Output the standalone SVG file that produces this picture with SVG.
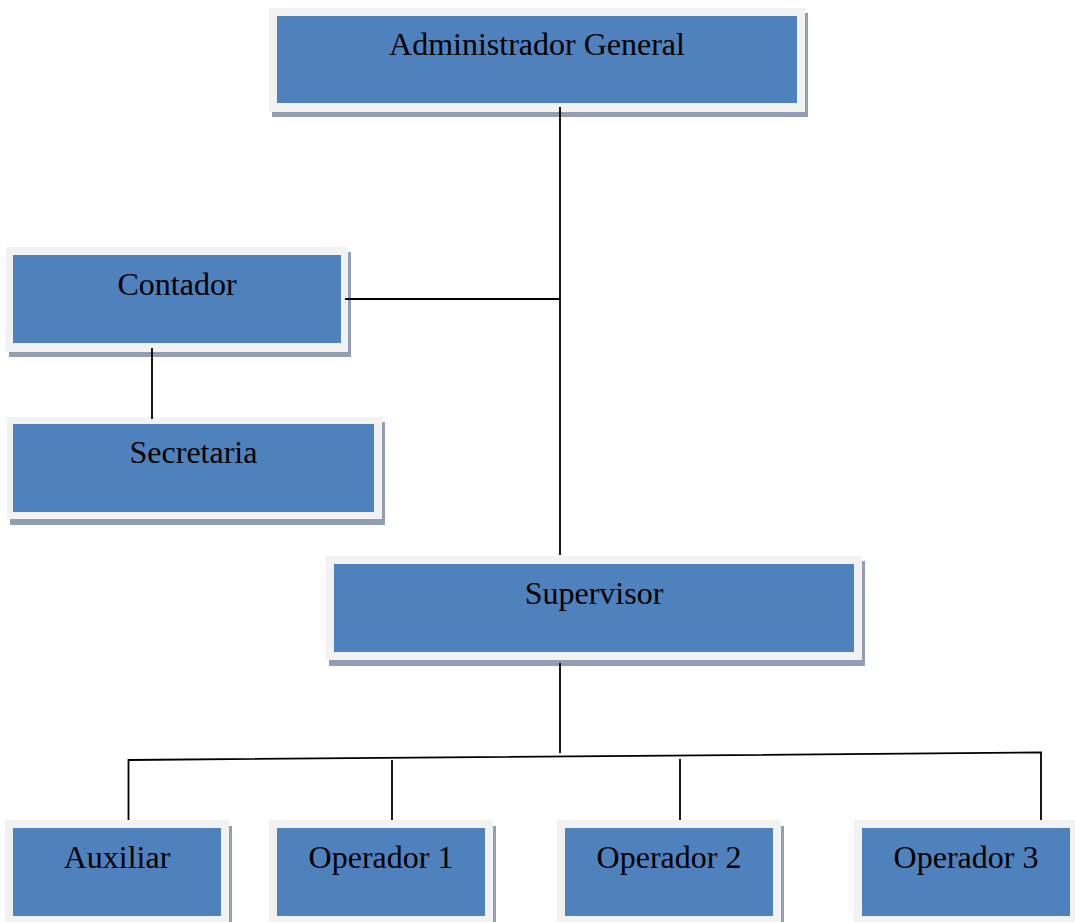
<svg xmlns="http://www.w3.org/2000/svg" width="1075" height="922" viewBox="0 0 1075 922">
<style>
.sh{fill:#929eb2}
.out{fill:#f2f2f2}
.box{fill:#4f81bd}
.t{font-family:"Liberation Serif","Times New Roman",serif;font-size:32px;fill:#000;text-anchor:middle}
.c{stroke:#000;stroke-width:1.8;fill:none}
</style>
<rect width="1075" height="922" fill="#fff"/>
<g id="admin">
<rect class="sh" x="272" y="13" width="536" height="104"/>
<rect class="out" x="269" y="8" width="536" height="104"/>
<rect class="box" x="277" y="16" width="520" height="87"/>
<text class="t" x="537" y="55">Administrador General</text>
</g>
<g id="contador">
<rect class="sh" x="9" y="252" width="342" height="105"/>
<rect class="out" x="6" y="247" width="342" height="105"/>
<rect class="box" x="13" y="255" width="328" height="88"/>
<text class="t" x="177" y="295">Contador</text>
</g>
<g id="secretaria">
<rect class="sh" x="10" y="422" width="375" height="103"/>
<rect class="out" x="7" y="417" width="375" height="102"/>
<rect class="box" x="13" y="424" width="361" height="88"/>
<text class="t" x="193.5" y="463">Secretaria</text>
</g>
<g id="supervisor">
<rect class="sh" x="329" y="561" width="536" height="105"/>
<rect class="out" x="326" y="556" width="536" height="104"/>
<rect class="box" x="334" y="564" width="520" height="88"/>
<text class="t" x="594" y="604">Supervisor</text>
</g>
<g id="auxiliar">
<rect class="sh" x="8" y="826" width="224" height="110"/>
<rect class="out" x="5" y="820" width="224" height="110"/>
<rect class="box" x="13" y="828" width="208" height="88"/>
<text class="t" x="117" y="868">Auxiliar</text>
</g>
<g id="operador1">
<rect class="sh" x="272" y="826" width="224" height="110"/>
<rect class="out" x="269" y="820" width="224" height="110"/>
<rect class="box" x="277" y="828" width="208" height="88"/>
<text class="t" x="381" y="868">Operador 1</text>
</g>
<g id="operador2">
<rect class="sh" x="560" y="826" width="224" height="110"/>
<rect class="out" x="557" y="820" width="224" height="110"/>
<rect class="box" x="565" y="828" width="208" height="88"/>
<text class="t" x="669" y="868">Operador 2</text>
</g>
<g id="operador3">
<rect class="sh" x="857" y="826" width="224" height="110"/>
<rect class="out" x="854" y="820" width="224" height="110"/>
<rect class="box" x="862" y="828" width="208" height="88"/>
<text class="t" x="966" y="868">Operador 3</text>
</g>
<g id="connectors">
<line class="c" x1="560" y1="107" x2="560" y2="555"/>
<line class="c" x1="345" y1="299" x2="560" y2="299"/>
<line class="c" x1="152" y1="348" x2="152" y2="419"/>
<line class="c" x1="560" y1="663" x2="560" y2="753"/>
<polyline class="c" points="128.5,820 128.5,760 1041,752.5 1041,820"/>
<line class="c" x1="392" y1="760" x2="392" y2="820"/>
<line class="c" x1="680" y1="759" x2="680" y2="820"/>
</g>
</svg>
